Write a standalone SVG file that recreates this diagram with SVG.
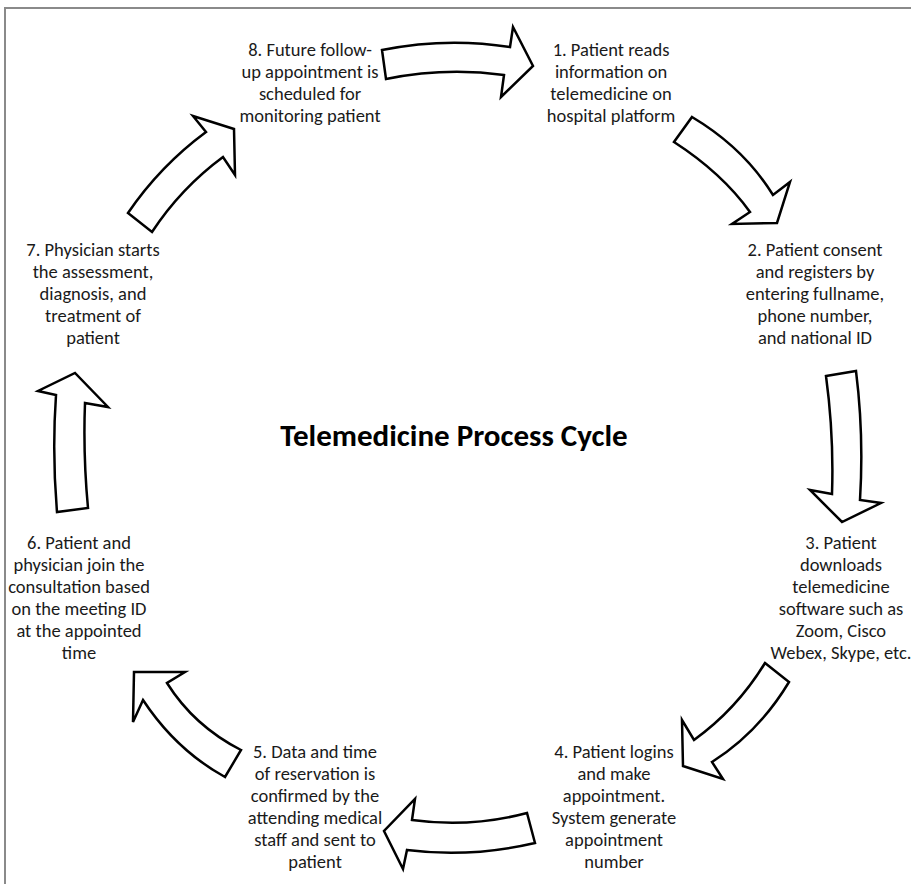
<svg xmlns="http://www.w3.org/2000/svg" width="911" height="884" viewBox="0 0 911 884">
<style>
.t{font-family:Carlito,Lato,"Liberation Sans",sans-serif;font-size:18.5px;fill:#1a1a1a;text-anchor:middle}
.title{font-family:Carlito,Lato,"Liberation Sans",sans-serif;font-size:31px;font-weight:bold;fill:#000;text-anchor:middle}
.arr{fill:#fff;stroke:#000;stroke-width:2.5;stroke-linejoin:miter}
.frame{stroke:#8a8a8a;stroke-width:2;fill:none}
</style>
<rect width="911" height="884" fill="#fff"/>
<path class="frame" d="M5,884 V8 H911"/>
<g id="title"><text class="title" x="454" y="446">Telemedicine Process Cycle</text></g>
<g id="connectors">
<path class="arr" d="M382,50 Q446,37 510,47 L513,27 L533,66 L501,97 L504,75 Q445,67 386,79 Z"/>
<path class="arr" d="M692,117 Q744,148 773,195 L790,182 L777,223 L732,224 L750,212 Q722,173 674,142 Z"/>
<path class="arr" d="M826,376 L856,371 Q864,435 860,500 L881,503 L842,522 L810,490 L832,494 Q834,435 826,376 Z"/>
<path class="arr" d="M765,663 L789,682 Q759,732 712,762 L723,779 L683,766 L682,720 L694,740 Q737,709 765,663 Z"/>
<path class="arr" d="M527,813 Q470,828 412,820 L415,799 L384,831 L403,869 L407,850 Q470,858 535,843 Z"/>
<path class="arr" d="M241,750 Q194,726 167,683 L185,672 L134,672 L133,722 L143,700 Q176,750 225,777 Z"/>
<path class="arr" d="M57,512 Q52,453 56,395 L38,391 L75,373 L108,407 L85,403 Q83,455 88,508 Z"/>
<path class="arr" d="M128,213 Q160,166 206,132 L193,116 L234,129 L235,175 L223,157 Q181,188 152,232 Z"/>
</g>
<g id="node1"><text class="t" x="611" y="56">1. Patient reads</text><text class="t" x="611" y="78">information on</text><text class="t" x="611" y="100">telemedicine on</text><text class="t" x="611" y="122">hospital platform</text></g>
<g id="node2"><text class="t" x="815" y="256">2. Patient consent</text><text class="t" x="815" y="278">and registers by</text><text class="t" x="815" y="300">entering fullname,</text><text class="t" x="815" y="322">phone number,</text><text class="t" x="815" y="344">and national ID</text></g>
<g id="node3"><text class="t" x="841" y="549">3. Patient</text><text class="t" x="841" y="571">downloads</text><text class="t" x="841" y="593">telemedicine</text><text class="t" x="841" y="615">software such as</text><text class="t" x="841" y="637">Zoom, Cisco</text><text class="t" x="841" y="659">Webex, Skype, etc.</text></g>
<g id="node4"><text class="t" x="614" y="758">4. Patient logins</text><text class="t" x="614" y="780">and make</text><text class="t" x="614" y="802">appointment.</text><text class="t" x="614" y="824">System generate</text><text class="t" x="614" y="846">appointment</text><text class="t" x="614" y="868">number</text></g>
<g id="node5"><text class="t" x="315" y="758">5. Data and time</text><text class="t" x="315" y="780">of reservation is</text><text class="t" x="315" y="802">confirmed by the</text><text class="t" x="315" y="824">attending medical</text><text class="t" x="315" y="846">staff and sent to</text><text class="t" x="315" y="868">patient</text></g>
<g id="node6"><text class="t" x="79" y="549">6. Patient and</text><text class="t" x="79" y="571">physician join the</text><text class="t" x="79" y="593">consultation based</text><text class="t" x="79" y="615">on the meeting ID</text><text class="t" x="79" y="637">at the appointed</text><text class="t" x="79" y="659">time</text></g>
<g id="node7"><text class="t" x="93" y="256">7. Physician starts</text><text class="t" x="93" y="278">the assessment,</text><text class="t" x="93" y="300">diagnosis, and</text><text class="t" x="93" y="322">treatment of</text><text class="t" x="93" y="344">patient</text></g>
<g id="node8"><text class="t" x="310" y="56">8. Future follow-</text><text class="t" x="310" y="78">up appointment is</text><text class="t" x="310" y="100">scheduled for</text><text class="t" x="310" y="122">monitoring patient</text></g>
</svg>
